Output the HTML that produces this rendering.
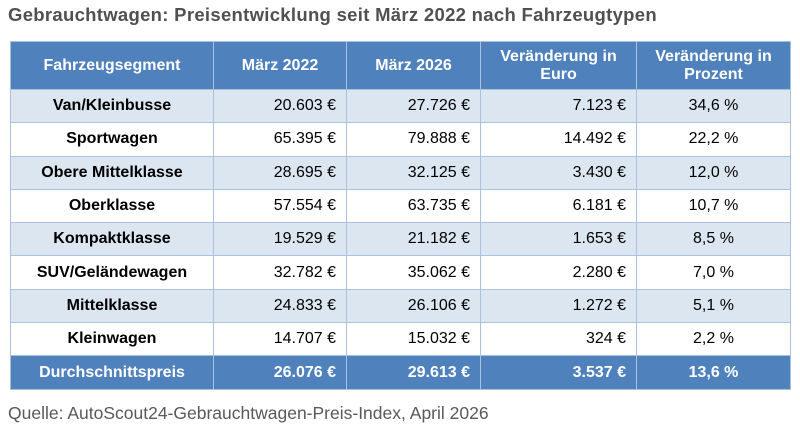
<!DOCTYPE html>
<html><head><meta charset="utf-8"><style>
body{margin:0;width:800px;height:432px;background:#fff;font-family:"Liberation Sans",sans-serif;position:relative;overflow:hidden}
.t{position:absolute;left:8px;top:4px;font-size:18.5px;font-weight:bold;color:#505050;letter-spacing:0.3px}
table{position:absolute;left:10px;top:41px;border-collapse:collapse;font-size:16px;color:#000}
td,th{border:1.5px solid #a9c2e0;padding:0 10px;height:32.3px}
th{background:#4f81bd;color:#fff;height:47px;font-weight:bold;line-height:18px}
tr.a td{background:#dce6f1}
td:first-child{font-weight:bold;text-align:center}
td.r{text-align:right}
td.c{text-align:center}
tr.s td{background:#4f81bd;color:#fff;font-weight:bold}
.f{position:absolute;left:8px;top:403px;font-size:17.5px;color:#595959}
</style></head><body>
<div class="t">Gebrauchtwagen: Preisentwicklung seit März 2022 nach Fahrzeugtypen</div>
<table>
<colgroup><col style="width:203px"><col style="width:133px"><col style="width:134px"><col style="width:156px"><col style="width:154px"></colgroup>
<tr><th>Fahrzeugsegment</th><th>März 2022</th><th>März 2026</th><th>Veränderung in Euro</th><th>Veränderung in Prozent</th></tr>
<tr class="a"><td>Van/Kleinbusse</td><td class="r">20.603 €</td><td class="r">27.726 €</td><td class="r">7.123 €</td><td class="c">34,6 %</td></tr>
<tr><td>Sportwagen</td><td class="r">65.395 €</td><td class="r">79.888 €</td><td class="r">14.492 €</td><td class="c">22,2 %</td></tr>
<tr class="a"><td>Obere Mittelklasse</td><td class="r">28.695 €</td><td class="r">32.125 €</td><td class="r">3.430 €</td><td class="c">12,0 %</td></tr>
<tr><td>Oberklasse</td><td class="r">57.554 €</td><td class="r">63.735 €</td><td class="r">6.181 €</td><td class="c">10,7 %</td></tr>
<tr class="a"><td>Kompaktklasse</td><td class="r">19.529 €</td><td class="r">21.182 €</td><td class="r">1.653 €</td><td class="c">8,5 %</td></tr>
<tr><td>SUV/Geländewagen</td><td class="r">32.782 €</td><td class="r">35.062 €</td><td class="r">2.280 €</td><td class="c">7,0 %</td></tr>
<tr class="a"><td>Mittelklasse</td><td class="r">24.833 €</td><td class="r">26.106 €</td><td class="r">1.272 €</td><td class="c">5,1 %</td></tr>
<tr><td>Kleinwagen</td><td class="r">14.707 €</td><td class="r">15.032 €</td><td class="r">324 €</td><td class="c">2,2 %</td></tr>
<tr class="s"><td>Durchschnittspreis</td><td class="r">26.076 €</td><td class="r">29.613 €</td><td class="r">3.537 €</td><td class="c">13,6 %</td></tr>
</table>
<div class="f">Quelle: AutoScout24-Gebrauchtwagen-Preis-Index, April 2026</div>
</body></html>
